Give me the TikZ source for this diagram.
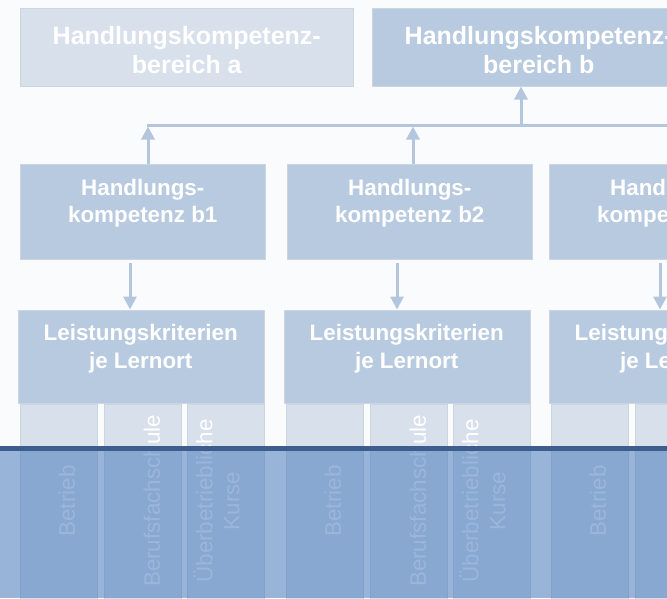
\documentclass[tikz,border=0pt]{standalone}
\usepackage{fontspec}
\setmainfont{Liberation Sans}
\usepackage{xcolor}
\usepackage{tikz}
\usetikzlibrary{positioning, calc, arrows.meta}

\definecolor{bgwhite}{HTML}{FAFBFC}
\definecolor{paleblue}{HTML}{D8E0EC}
\definecolor{midblue}{HTML}{B8CADF}
\definecolor{arrowblue}{HTML}{B3C6DD}
\definecolor{edgegray}{HTML}{CCD4DF}
\definecolor{veilblue}{RGB}{57,111,184}
\definecolor{darkband}{HTML}{3D5E8D}

\begin{document}
\begin{tikzpicture}[x=1pt, y=-1pt,
    box/.style={draw=edgegray, line width=0.5pt, inner sep=0pt, anchor=north west},
    bereich/.style={box, minimum width=333pt, minimum height=78pt},
    kompetenz/.style={box, fill=midblue, minimum width=245pt, minimum height=95pt},
    kriterien/.style={box, fill=midblue, minimum width=246pt, minimum height=93pt},
    lernort/.style={box, fill=paleblue, minimum width=77pt, minimum height=216pt},
    toptext/.style={text=white, font=\fontsize{25}{29}\selectfont\bfseries, align=center},
    boxtext/.style={text=white, font=\fontsize{22.4}{27.5}\selectfont\bfseries, align=center},
    coltext/.style={text=white, font=\fontsize{22.4}{27}\selectfont, align=center, rotate=90},
    link/.style={arrowblue, line width=3pt, -{Triangle[length=13pt, width=13pt]}}]
    % Handlungskompetenzbereiche, Handlungskompetenzen und Lernorte
    \fill[bgwhite] (0,0) rectangle (667,598);
    \useasboundingbox (0,0) rectangle (667,598);
    \clip (0,0) rectangle (667,598);

    \node[bereich, fill=paleblue, label={[toptext, yshift=-2.7pt]center:Handlungskompetenz-\\bereich a}] (ba) at (20,8) {};
    \node[bereich, fill=midblue, label={[toptext, yshift=-2.7pt]center:Handlungskompetenz-\\bereich b}] (bb) at (372,8) {};

    \node[kompetenz, label={[boxtext, yshift=8.5pt]center:Handlungs-\\kompetenz b1}] (b1) at (20,164) {};
    \node[kompetenz, label={[boxtext, yshift=8.5pt]center:Handlungs-\\kompetenz b2}] (b2) at (287,164) {};
    \node[kompetenz, label={[boxtext, yshift=8.5pt]center:Handlungs-\\kompetenz b3}] (b3) at (549,164) {};

    \node[kriterien, label={[boxtext, yshift=7.3pt]center:Leistungskriterien\\je Lernort}] (lk1) at (17.5,309.5) {};
    \node[kriterien, label={[boxtext, yshift=7.3pt]center:Leistungskriterien\\je Lernort}] (lk2) at (283.5,309.5) {};
    \node[kriterien, label={[boxtext, yshift=7.3pt]center:Leistungskriterien\\je Lernort}] (lk3) at (548.5,309.5) {};

    \node[lernort] (c1a) at (20,404) {};
    \node[lernort] (c1b) at (103.5,404) {};
    \node[lernort] (c1c) at (186.5,404) {};
    \node[lernort] (c2a) at (286,404) {};
    \node[lernort] (c2b) at (369.5,404) {};
    \node[lernort] (c2c) at (452.5,404) {};
    \node[lernort] (c3a) at (551,404) {};
    \node[lernort] (c3b) at (634.5,404) {};

    \node[coltext] (t1a) at (66.8,501) {Betrieb};
    \node[coltext] (t1b) at (151.8,501) {Berufsfachschule};
    \node[coltext] (t1c) at (216.5,501) {Überbetriebliche\\Kurse};
    \node[coltext] (t2a) at (332.8,501) {Betrieb};
    \node[coltext] (t2b) at (417.8,501) {Berufsfachschule};
    \node[coltext] (t2c) at (482.5,501) {Überbetriebliche\\Kurse};
    \node[coltext] (t3a) at (597.8,501) {Betrieb};

    % Verbindungen
    \coordinate (hubL) at (146.5,125);
    \coordinate (hubR) at (680,125);
    \coordinate (up1) at (148,126.5);
    \coordinate (up2) at (413,126.5);
    \coordinate (upb) at (521,125);
    \coordinate (dn1) at (130,263);
    \coordinate (dn2) at (397,263);
    \coordinate (dn3) at (660,263);
    \draw[arrowblue, line width=3pt] (hubL) -- (hubR);
    \draw[link] (upb) -- (upb |- bb.south);
    \draw[link] (b1.north -| up1) -- (up1);
    \draw[link] (b2.north -| up2) -- (up2);
    \draw[link] (dn1) -- (dn1 |- lk1.north);
    \draw[link] (dn2) -- (dn2 |- lk2.north);
    \draw[link] (dn3) -- (dn3 |- lk3.north);

    % Ueberlagerung unten
    \fill[darkband] (0,446) rectangle (667,451);
    \fill[veilblue, opacity=0.5] (0,451) rectangle (667,598);
  \end{tikzpicture}
\end{document}
